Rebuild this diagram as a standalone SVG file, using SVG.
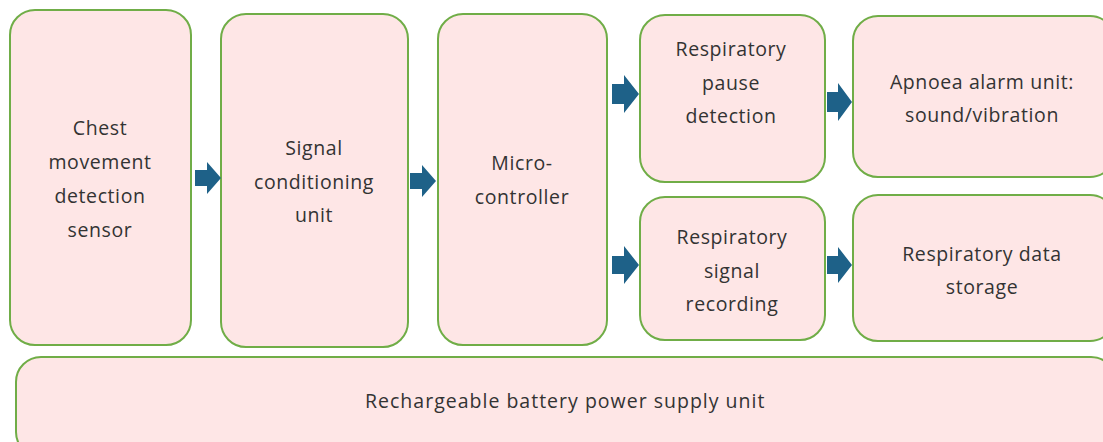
<svg xmlns="http://www.w3.org/2000/svg" width="1103" height="442" viewBox="0 0 1103 442">
<style>
.box{fill:#FEE6E6;stroke:#70AD47;stroke-width:2}
.t{font-family:"Open Sans","Liberation Sans",sans-serif;font-size:19.5px;letter-spacing:0.6px;fill:#333;text-anchor:middle}
.arr{fill:#1E6188}
</style>
<rect width="1103" height="442" fill="#fff"/>
<g id="n1"><rect class="box" x="10" y="10" width="181" height="335" rx="25"/>
<text class="t" x="100" y="135">Chest</text><text class="t" x="100" y="169">movement</text><text class="t" x="100" y="203">detection</text><text class="t" x="100" y="237">sensor</text></g>
<g id="n2"><rect class="box" x="221" y="14" width="187" height="333" rx="25"/>
<text class="t" x="314" y="155">Signal</text><text class="t" x="314" y="189">conditioning</text><text class="t" x="314" y="222">unit</text></g>
<g id="n3"><rect class="box" x="438" y="14" width="169" height="331" rx="25"/>
<text class="t" x="522" y="170">Micro-</text><text class="t" x="522" y="204">controller</text></g>
<g id="n4"><rect class="box" x="640" y="15" width="185" height="167" rx="25"/>
<text class="t" x="731" y="56">Respiratory</text><text class="t" x="731" y="90">pause</text><text class="t" x="731" y="123">detection</text></g>
<g id="n5"><rect class="box" x="853" y="16" width="262" height="161" rx="25"/>
<text class="t" x="982" y="89">Apnoea alarm unit:</text><text class="t" x="982" y="122">sound/vibration</text></g>
<g id="n6"><rect class="box" x="640" y="197" width="185" height="143" rx="25"/>
<text class="t" x="732" y="244">Respiratory</text><text class="t" x="732" y="278">signal</text><text class="t" x="732" y="311">recording</text></g>
<g id="n7"><rect class="box" x="853" y="195" width="262" height="146" rx="25"/>
<text class="t" x="982" y="261">Respiratory data</text><text class="t" x="982" y="294">storage</text></g>
<g id="n8"><rect class="box" x="16" y="357" width="1100" height="100" rx="25"/>
<text class="t" x="565" y="408" textLength="400" lengthAdjust="spacing">Rechargeable  battery  power supply unit</text></g>
<g id="connectors">
<path class="arr" d="M195,170 H207 V162 L221,178 L207,194 V186 H195 Z"/>
<path class="arr" d="M410,173 H422 V165 L436,181 L422,197 V189 H410 Z"/>
<path class="arr" d="M612,84 H624 V75 L639,94 L624,113 V104 H612 Z"/>
<path class="arr" d="M612,256 H624 V246 L639,265 L624,284 V274 H612 Z"/>
<path class="arr" d="M827,92 H838 V83 L852,102 L838,121 V112 H827 Z"/>
<path class="arr" d="M827,256 H838 V247 L852,265 L838,283 V274 H827 Z"/>
</g>
</svg>
